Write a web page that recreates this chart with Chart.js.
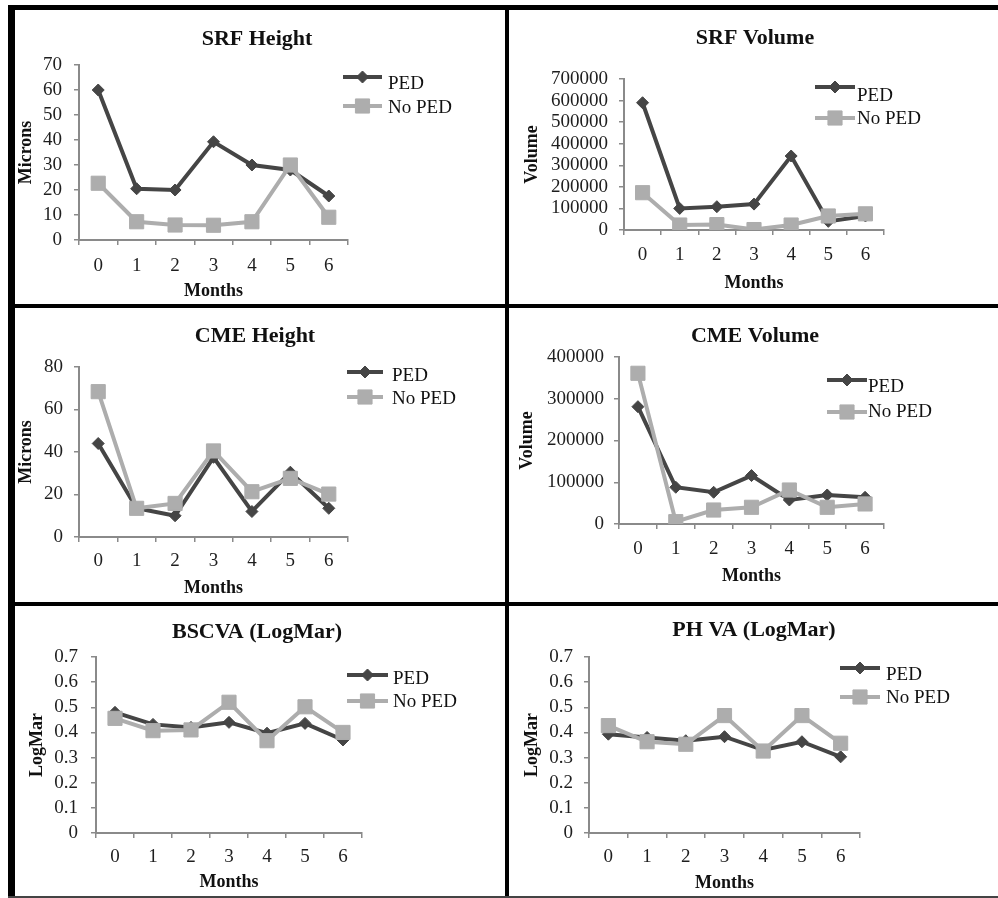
<!DOCTYPE html>
<html>
<head>
<meta charset="utf-8">
<title>PED vs No PED</title>
<script src="https://cdn.jsdelivr.net/npm/chart.js@4.4.1/dist/chart.umd.min.js"></script>
<style>
  body { margin: 0; background: #fff; width: 998px; height: 898px; position: relative; overflow: hidden; }
  .rule { position: absolute; background: #000; }
  canvas { position: absolute; }
</style>
</head>
<body>
<div class="rule" style="left:8px;top:5px;width:990px;height:5px"></div>
<div class="rule" style="left:8px;top:5px;width:7px;height:893px"></div>
<div class="rule" style="left:505px;top:5px;width:4px;height:893px"></div>
<div class="rule" style="left:8px;top:304px;width:990px;height:4px"></div>
<div class="rule" style="left:8px;top:602px;width:990px;height:4px"></div>
<div class="rule" style="left:8px;top:896px;width:990px;height:2px;background:#444"></div>

<canvas id="srf-height" width="490" height="294" style="left:15px;top:10px"></canvas>
<canvas id="srf-volume" width="489" height="294" style="left:509px;top:10px"></canvas>
<canvas id="cme-height" width="490" height="294" style="left:15px;top:308px"></canvas>
<canvas id="cme-volume" width="489" height="294" style="left:509px;top:308px"></canvas>
<canvas id="bscva" width="490" height="290" style="left:15px;top:606px"></canvas>
<canvas id="phva" width="489" height="290" style="left:509px;top:606px"></canvas>

<script>
// Data
const months = ['0', '1', '2', '3', '4', '5', '6'];
const seriesLabels = ['PED', 'No PED'];

const srfHeightPed = [60, 20.5, 20, 39.3, 30, 28, 17.6];
const srfHeightNoPed = [22.7, 7.3, 6, 5.9, 7.3, 30, 9.1];

const srfVolumePed = [590000, 100000, 108000, 120000, 343000, 40000, 65000];
const srfVolumeNoPed = [173000, 23000, 25000, 2000, 23000, 65000, 75000];

const cmeHeightPed = [44, 13.5, 10, 37.5, 12, 30.5, 13.5];
const cmeHeightNoPed = [68.4, 13.5, 15.8, 40.5, 21.3, 27.6, 20.2];

const cmeVolumePed = [281000, 88000, 76000, 116000, 57500, 69500, 64000];
const cmeVolumeNoPed = [361000, 5600, 33500, 40000, 81400, 40000, 48000];

const bscvaPed = [0.48, 0.432, 0.42, 0.44, 0.397, 0.436, 0.37];
const bscvaNoPed = [0.456, 0.407, 0.41, 0.52, 0.367, 0.502, 0.40];

const phvaPed = [0.393, 0.38, 0.367, 0.383, 0.33, 0.363, 0.303];
const phvaNoPed = [0.427, 0.363, 0.353, 0.467, 0.326, 0.467, 0.357];

const pedColor = '#454545';
const noPedColor = '#adadad';
const axisColor = '#8a8a8a';
const serif = '"Liberation Serif", "Times New Roman", serif';

// one entry per panel: layout numbers are in canvas pixels
const panels = [
    { id: 'srf-height', title: 'SRF Height', yTitle: 'Microns', ped: srfHeightPed, noPed: srfHeightNoPed,
      yMax: 70, yStep: 10, box: { top: 55, right: 157, left: 64, bottom: 64 },
      yTitlePad: 1, yTickPad: 12, xTickPad: 10, xTitlePad: 2, titleAt: [242, 29],
      legend: { x: 328, len: 39, y: [67, 96], textX: 373, textY: [74, 98] } },
    { id: 'srf-volume', title: 'SRF Volume', yTitle: 'Volume', ped: srfVolumePed, noPed: srfVolumeNoPed,
      yMax: 700000, yStep: 100000, box: { top: 69, right: 114, left: 115, bottom: 74 },
      yTitlePad: 13, yTickPad: 11, xTickPad: 9, xTitlePad: 10, titleAt: [246, 28],
      legend: { x: 306, len: 40, y: [77, 108], textX: 348, textY: [86, 109] } },
    { id: 'cme-height', title: 'CME Height', yTitle: 'Microns', ped: cmeHeightPed, noPed: cmeHeightNoPed,
      yMax: 80, yStep: 20, box: { top: 59, right: 157, left: 64, bottom: 65 },
      yTitlePad: 1, yTickPad: 11, xTickPad: 8, xTitlePad: 3, titleAt: [240, 28],
      legend: { x: 332, len: 36, y: [64, 89], textX: 377, textY: [68, 91] } },
    { id: 'cme-volume', title: 'CME Volume', yTitle: 'Volume', ped: cmeVolumePed, noPed: cmeVolumeNoPed,
      yMax: 400000, yStep: 100000, box: { top: 49, right: 114, left: 110, bottom: 78 },
      yTitlePad: 8, yTickPad: 10, xTickPad: 9, xTitlePad: 15, titleAt: [246, 28],
      legend: { x: 318, len: 40, y: [72, 104], textX: 359, textY: [79, 104] } },
    { id: 'bscva', title: 'BSCVA (LogMar)', yTitle: 'LogMar', ped: bscvaPed, noPed: bscvaNoPed,
      yMax: 0.7, yStep: 0.1, box: { top: 51, right: 143, left: 81, bottom: 63 },
      yTitlePad: 12, yTickPad: 13, xTickPad: 8, xTitlePad: 3, titleAt: [242, 26],
      legend: { x: 332, len: 41, y: [69, 95], textX: 378, textY: [73, 96] } },
    { id: 'phva', title: 'PH VA (LogMar)', yTitle: 'LogMar', ped: phvaPed, noPed: phvaNoPed,
      yMax: 0.7, yStep: 0.1, box: { top: 51, right: 138, left: 80, bottom: 63 },
      yTitlePad: 13, yTickPad: 11, xTickPad: 8, xTitlePad: 2, titleAt: [245, 24],
      legend: { x: 331, len: 40, y: [62, 91], textX: 377, textY: [69, 92] } }
];

// Title and Excel-style legend (line with marker in the middle)
const panelDecor = {
    id: 'panelDecor',
    afterDraw(chart, args, opts) {
        const ctx = chart.ctx;
        ctx.save();
        ctx.fillStyle = '#111';
        ctx.font = 'bold 22px ' + serif;
        ctx.textAlign = 'center';
        ctx.textBaseline = 'middle';
        ctx.fillText(opts.title, opts.titleAt[0], opts.titleAt[1]);

        const lg = opts.legend;
        chart.data.datasets.forEach((ds, i) => {
            const y = lg.y[i];
            ctx.strokeStyle = ds.borderColor;
            ctx.lineWidth = ds.borderWidth;
            ctx.beginPath();
            ctx.moveTo(lg.x, y);
            ctx.lineTo(lg.x + lg.len, y);
            ctx.stroke();

            ctx.fillStyle = ds.pointBackgroundColor;
            ctx.strokeStyle = ds.pointBorderColor;
            ctx.lineWidth = 1;
            Chart.helpers.drawPoint(ctx, {
                pointStyle: ds.pointStyle, radius: ds.pointRadius, rotation: 0, borderWidth: 1
            }, lg.x + lg.len / 2, y);

            ctx.fillStyle = '#111';
            ctx.font = '19px ' + serif;
            ctx.textAlign = 'left';
            ctx.textBaseline = 'middle';
            ctx.fillText(ds.label, lg.textX, lg.textY[i]);
        });
        ctx.restore();
    }
};

function formatTick(value, step) {
    if (value === 0) return '0';
    return step < 1 ? value.toFixed(1) : String(value);
}

function tickValues(max, step) {
    const out = [];
    const n = Math.round(max / step);
    for (let i = 0; i <= n; i++) {
        out.push({ value: Math.round(i * step * 1000) / 1000 });
    }
    return out;
}

panels.forEach(p => {
    const tickFont = { family: serif, size: 19 };
    const titleFont = { family: serif, size: 18, weight: 'bold' };

    new Chart(document.getElementById(p.id), {
        type: 'line',
        data: {
            labels: months,
            datasets: [
                {
                    label: seriesLabels[0],
                    data: p.ped,
                    borderColor: pedColor,
                    backgroundColor: pedColor,
                    pointBackgroundColor: pedColor,
                    pointBorderColor: pedColor,
                    borderWidth: 4,
                    pointStyle: 'rectRot',
                    pointRadius: 6,
                    pointBorderWidth: 1,
                    tension: 0,
                    order: 1
                },
                {
                    label: seriesLabels[1],
                    data: p.noPed,
                    borderColor: noPedColor,
                    backgroundColor: noPedColor,
                    pointBackgroundColor: noPedColor,
                    pointBorderColor: noPedColor,
                    borderWidth: 4,
                    pointStyle: 'rect',
                    pointRadius: 10,
                    pointBorderWidth: 1,
                    tension: 0,
                    order: 0
                }
            ]
        },
        options: {
            responsive: false,
            animation: false,
            layout: { padding: { top: p.box.top, right: p.box.right, left: 0, bottom: 0 } },
            plugins: {
                legend: { display: false },
                tooltip: { enabled: false },
                panelDecor: { title: p.title, titleAt: p.titleAt, legend: p.legend }
            },
            scales: {
                x: {
                    offset: true,
                    grid: { drawOnChartArea: false, offset: true, tickLength: 5, color: axisColor, lineWidth: 1.5 },
                    border: { color: axisColor, width: 2 },
                    ticks: { font: tickFont, color: '#1e1e1e', padding: p.xTickPad, maxRotation: 0, autoSkip: false },
                    title: { display: true, text: 'Months', font: titleFont, color: '#111',
                             padding: { top: 0, bottom: p.xTitlePad } },
                    afterFit: s => { s.height = p.box.bottom; }
                },
                y: {
                    min: 0,
                    max: p.yMax,
                    grid: { drawOnChartArea: false, tickLength: 5, color: axisColor, lineWidth: 1.5 },
                    border: { color: axisColor, width: 2 },
                    ticks: {
                        font: tickFont,
                        color: '#1e1e1e',
                        padding: p.yTickPad,
                        autoSkip: false,
                        callback: v => formatTick(v, p.yStep)
                    },
                    afterBuildTicks: s => { s.ticks = tickValues(p.yMax, p.yStep); },
                    title: { display: true, text: p.yTitle, font: titleFont, color: '#111',
                             padding: { top: p.yTitlePad, bottom: 0 } },
                    afterFit: s => { s.width = p.box.left; }
                }
            }
        },
        plugins: [panelDecor]
    });
});
</script>
</body>
</html>
